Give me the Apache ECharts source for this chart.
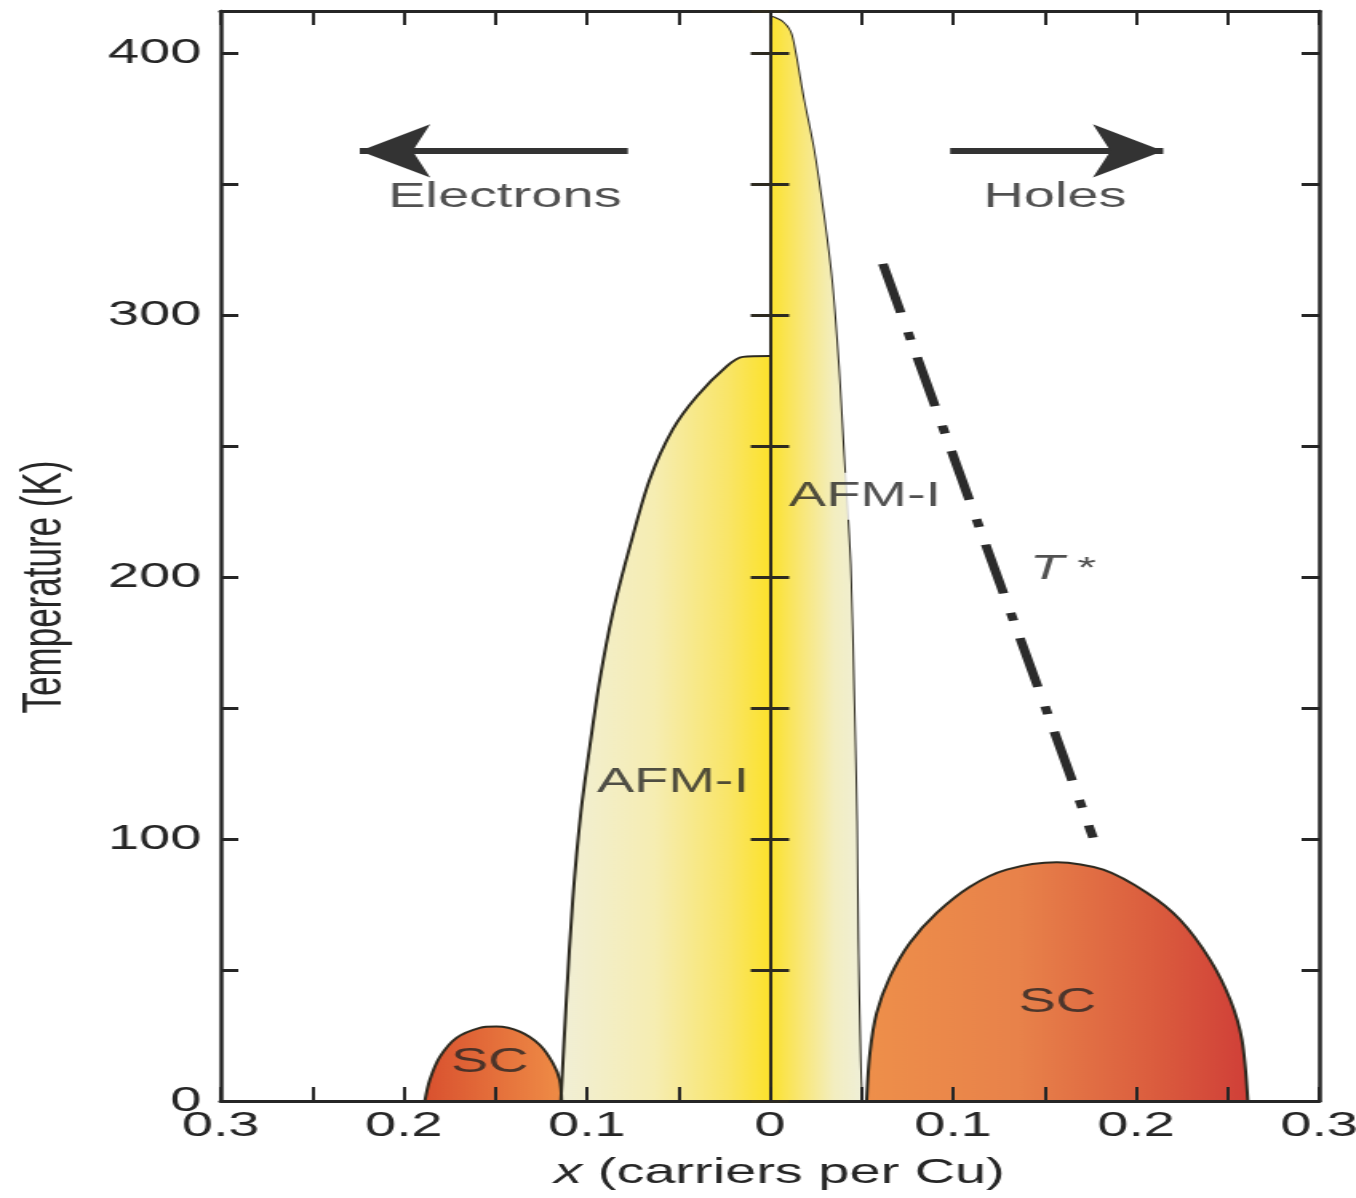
<!DOCTYPE html>
<html>
<head>
<meta charset="utf-8">
<title>Cuprate phase diagram</title>
<script src="https://cdn.jsdelivr.net/npm/echarts@6.0.0/dist/echarts.min.js"></script>
<style>
html, body { margin: 0; padding: 0; background: #fff; overflow: hidden; }
/* the source figure is stretched sideways, so the chart is drawn narrow and widened */
#main { width: 848px; height: 1198px; transform: scaleX(1.599); transform-origin: 0 0; }
</style>
</head>
<body>
<div id="main"></div>
<script>
// axis ranges
var xMin = -0.3, xMax = 0.3, xStep = 0.05;
var yMin = 0, yMax = 416, yStep = 50;

// phase boundaries, [x, T(K)] ; x < 0 is electron doping
var afmElectron = [[-0.1142, 0], [-0.1112, 38.6], [-0.1077, 76.8], [-0.1033, 110], [-0.0984, 135.3],
	[-0.0929, 160.9], [-0.0858, 186.5], [-0.0765, 211.7], [-0.0656, 237.3], [-0.053, 256.4],
	[-0.0399, 269], [-0.0235, 280.5], [-0.0148, 284], [0, 284.3]];
var afmHole = [[0, 414], [0.0064, 412], [0.011, 408], [0.0137, 400], [0.0182, 382.5], [0.0237, 363.4],
	[0.0292, 337.9], [0.0337, 312.5], [0.0373, 280.6], [0.0402, 246], [0.0437, 205], [0.0458, 151],
	[0.0472, 107], [0.048, 56], [0.0494, 10], [0.0501, 0]];
var scElectron = [[-0.1885, 0], [-0.1858, 8], [-0.1803, 16.8], [-0.1712, 24.1], [-0.1585, 27.9],
	[-0.1494, 28.4], [-0.1366, 26.5], [-0.1257, 21.4], [-0.1186, 14.5], [-0.1148, 8], [-0.1138, 0]];
var scHole = [[0.0528, 0], [0.0546, 18.3], [0.0583, 33.6], [0.0656, 47.4], [0.0765, 60.4], [0.0911, 71.8],
	[0.1093, 81.8], [0.1293, 88.3], [0.1567, 91.1], [0.182, 88.3], [0.2059, 79.5], [0.224, 69.2],
	[0.2404, 53.9], [0.2514, 38.6], [0.2578, 23.3], [0.261, 0]];
var tStar = [[0.0617, 319.5], [0.1765, 100.5]];

// arrows: tail, tip
var arrowElectrons = [[-0.0776, 362.6], [-0.224, 362.6]];
var arrowHoles = [[0.0984, 362.6], [0.2148, 362.6]];

// text notes [x, T, text]
var notes = [
	[-0.1448, 345, 'Electrons'],
	[0.1557, 345, 'Holes'],
	[0.0519, 230.8, 'AFM-I'],
	[-0.053, 121.5, 'AFM-I'],
	[0.160, 203, '{i|T}{s| *}'],
	[-0.153, 14.9, 'SC'],
	[0.157, 37.8, 'SC']
];

var ink = '#262626';
var edge = '#2d2a20';
var fontSize = 35;

function grad(stops) {
	return new echarts.graphic.LinearGradient(0, 0, 1, 0, stops.map(function (s) {
		return { offset: s[0], color: s[1] };
	}));
}

function region(name, data, stops, z, outline) {
	return {
		name: name,
		type: 'line',
		data: data,
		smooth: 0.3,
		symbol: 'none',
		lineStyle: outline ? { color: edge, width: 2 } : { width: 0, opacity: 0 },
		areaStyle: stops ? { color: grad(stops), opacity: 1 } : undefined,
		z: z
	};
}

function xLabel(v) {
	var r = Math.round(v * 100);
	if (r % 10 !== 0) return '';
	return String(Math.abs(r) / 100);
}

function yLabel(v) {
	return v % 100 === 0 ? String(v) : '';
}

var holeAfmStops = [[0, '#fce22c'], [0.3, '#f9e66e'], [0.7, '#f3eec0'], [1, '#efefd8']];

var chart = echarts.init(document.getElementById('main'));
chart.setOption({
	animation: false,
	backgroundColor: '#fff',
	textStyle: { fontFamily: 'Liberation Sans, Arial, sans-serif' },
	grid: { left: 138, right: 23, top: 11, bottom: 97, outerBoundsMode: 'none' },
	xAxis: [
		{
			type: 'value', position: 'bottom', min: xMin, max: xMax, interval: xStep, z: 5,
			axisLine: { onZero: false, lineStyle: { color: ink, width: 3 } },
			axisTick: { inside: true, length: 14, lineStyle: { color: ink, width: 2 } },
			axisLabel: { formatter: xLabel, fontSize: fontSize, color: ink, margin: 8, showMinLabel: true, showMaxLabel: true },
			splitLine: { show: false },
			name: '{i|x} (carriers per Cu)',
			nameLocation: 'middle',
			nameGap: 55,
			nameTextStyle: { fontSize: fontSize, color: ink, padding: [0, 0, 0, 12], rich: { i: { fontStyle: 'italic', fontSize: fontSize, color: ink } } }
		},
		{
			type: 'value', position: 'top', min: xMin, max: xMax, interval: xStep, z: 5,
			axisLine: { onZero: false, lineStyle: { color: ink, width: 3 } },
			axisTick: { inside: true, length: 14, lineStyle: { color: ink, width: 2 } },
			axisLabel: { show: false },
			splitLine: { show: false }
		}
	],
	yAxis: [
		{
			type: 'value', position: 'left', min: yMin, max: yMax, interval: yStep, z: 5,
			axisLine: { onZero: false, lineStyle: { color: ink, width: 2.5 } },
			axisTick: { inside: true, length: 11, lineStyle: { color: ink, width: 3 } },
			axisLabel: { formatter: yLabel, fontSize: fontSize, color: ink, margin: 12 },
			splitLine: { show: false },
			name: 'Temperature (K)',
			nameLocation: 'middle',
			nameGap: 92,
			nameTextStyle: { fontSize: fontSize, color: ink, padding: [0, 62, 0, 0] }
		},
		{
			type: 'value', position: 'right', min: yMin, max: yMax, interval: yStep, z: 5,
			axisLine: { onZero: false, lineStyle: { color: ink, width: 2.5 } },
			axisTick: { inside: true, length: 11, lineStyle: { color: ink, width: 3 } },
			axisLabel: { show: false },
			splitLine: { show: false }
		},
		// x = 0 divider, ticks on both sides
		{
			type: 'value', position: 'left', min: yMin, max: yMax, interval: yStep, z: 5,
			axisLine: { onZero: true, onZeroAxisIndex: 0, lineStyle: { color: edge, width: 2 } },
			axisTick: { inside: true, length: 12, lineStyle: { color: edge, width: 3 } },
			axisLabel: { show: false },
			splitLine: { show: false }
		},
		{
			type: 'value', position: 'left', min: yMin, max: yMax, interval: yStep, z: 5,
			axisLine: { onZero: true, onZeroAxisIndex: 0, lineStyle: { color: edge, width: 2 } },
			axisTick: { inside: false, length: 12, lineStyle: { color: edge, width: 3 } },
			axisLabel: { show: false },
			splitLine: { show: false }
		}
	],
	series: [
		region('AFM-I (electrons)', afmElectron, [[0, '#f1efd6'], [0.45, '#f6edb2'], [0.8, '#f9e568'], [1, '#fce22c']], 2, true),
		// hole side AFM: outline under the label box, fill above it
		region('AFM-I (holes) edge', afmHole, null, 1, true),
		region('AFM-I (holes)', afmHole, holeAfmStops, 3, false),
		region('SC (electrons)', scElectron, [[0, '#d9512f'], [1, '#ef8c46']], 2, true),
		region('SC (holes)', scHole, [[0, '#ee8f4a'], [0.4, '#e8824a'], [0.75, '#db5d3e'], [1, '#d03f38']], 2, true),
		{
			name: 'label box',
			type: 'scatter',
			data: [notes[2]],
			symbolSize: 0,
			silent: true,
			z: 2,
			label: {
				show: true,
				position: 'inside',
				formatter: function (p) { return p.data[2]; },
				fontSize: fontSize,
				color: '#fff',
				backgroundColor: '#fff',
				padding: [6, 4]
			}
		},
		{
			name: 'T*',
			type: 'line',
			data: tStar,
			symbol: 'none',
			lineStyle: { color: '#2b2b2b', width: 6, type: [50, 20, 8, 18], cap: 'butt' },
			z: 3,
			markLine: {
				silent: true,
				symbol: ['none', 'arrow'],
				symbolSize: [40, 44],
				label: { show: false },
				lineStyle: { color: '#333', width: 6, type: 'solid' },
				data: [
					[{ coord: arrowElectrons[0] }, { coord: arrowElectrons[1] }],
					[{ coord: arrowHoles[0] }, { coord: arrowHoles[1] }]
				]
			}
		},
		{
			name: 'notes',
			type: 'scatter',
			data: notes,
			symbolSize: 0,
			silent: true,
			z: 6,
			label: {
				show: true,
				position: 'inside',
				formatter: function (p) { return p.data[2]; },
				fontSize: fontSize,
				color: ink,
				rich: {
					i: { fontStyle: 'italic', fontSize: fontSize, color: ink },
					s: { fontSize: 30, color: ink }
				}
			}
		}
	]
});
</script>
</body>
</html>
